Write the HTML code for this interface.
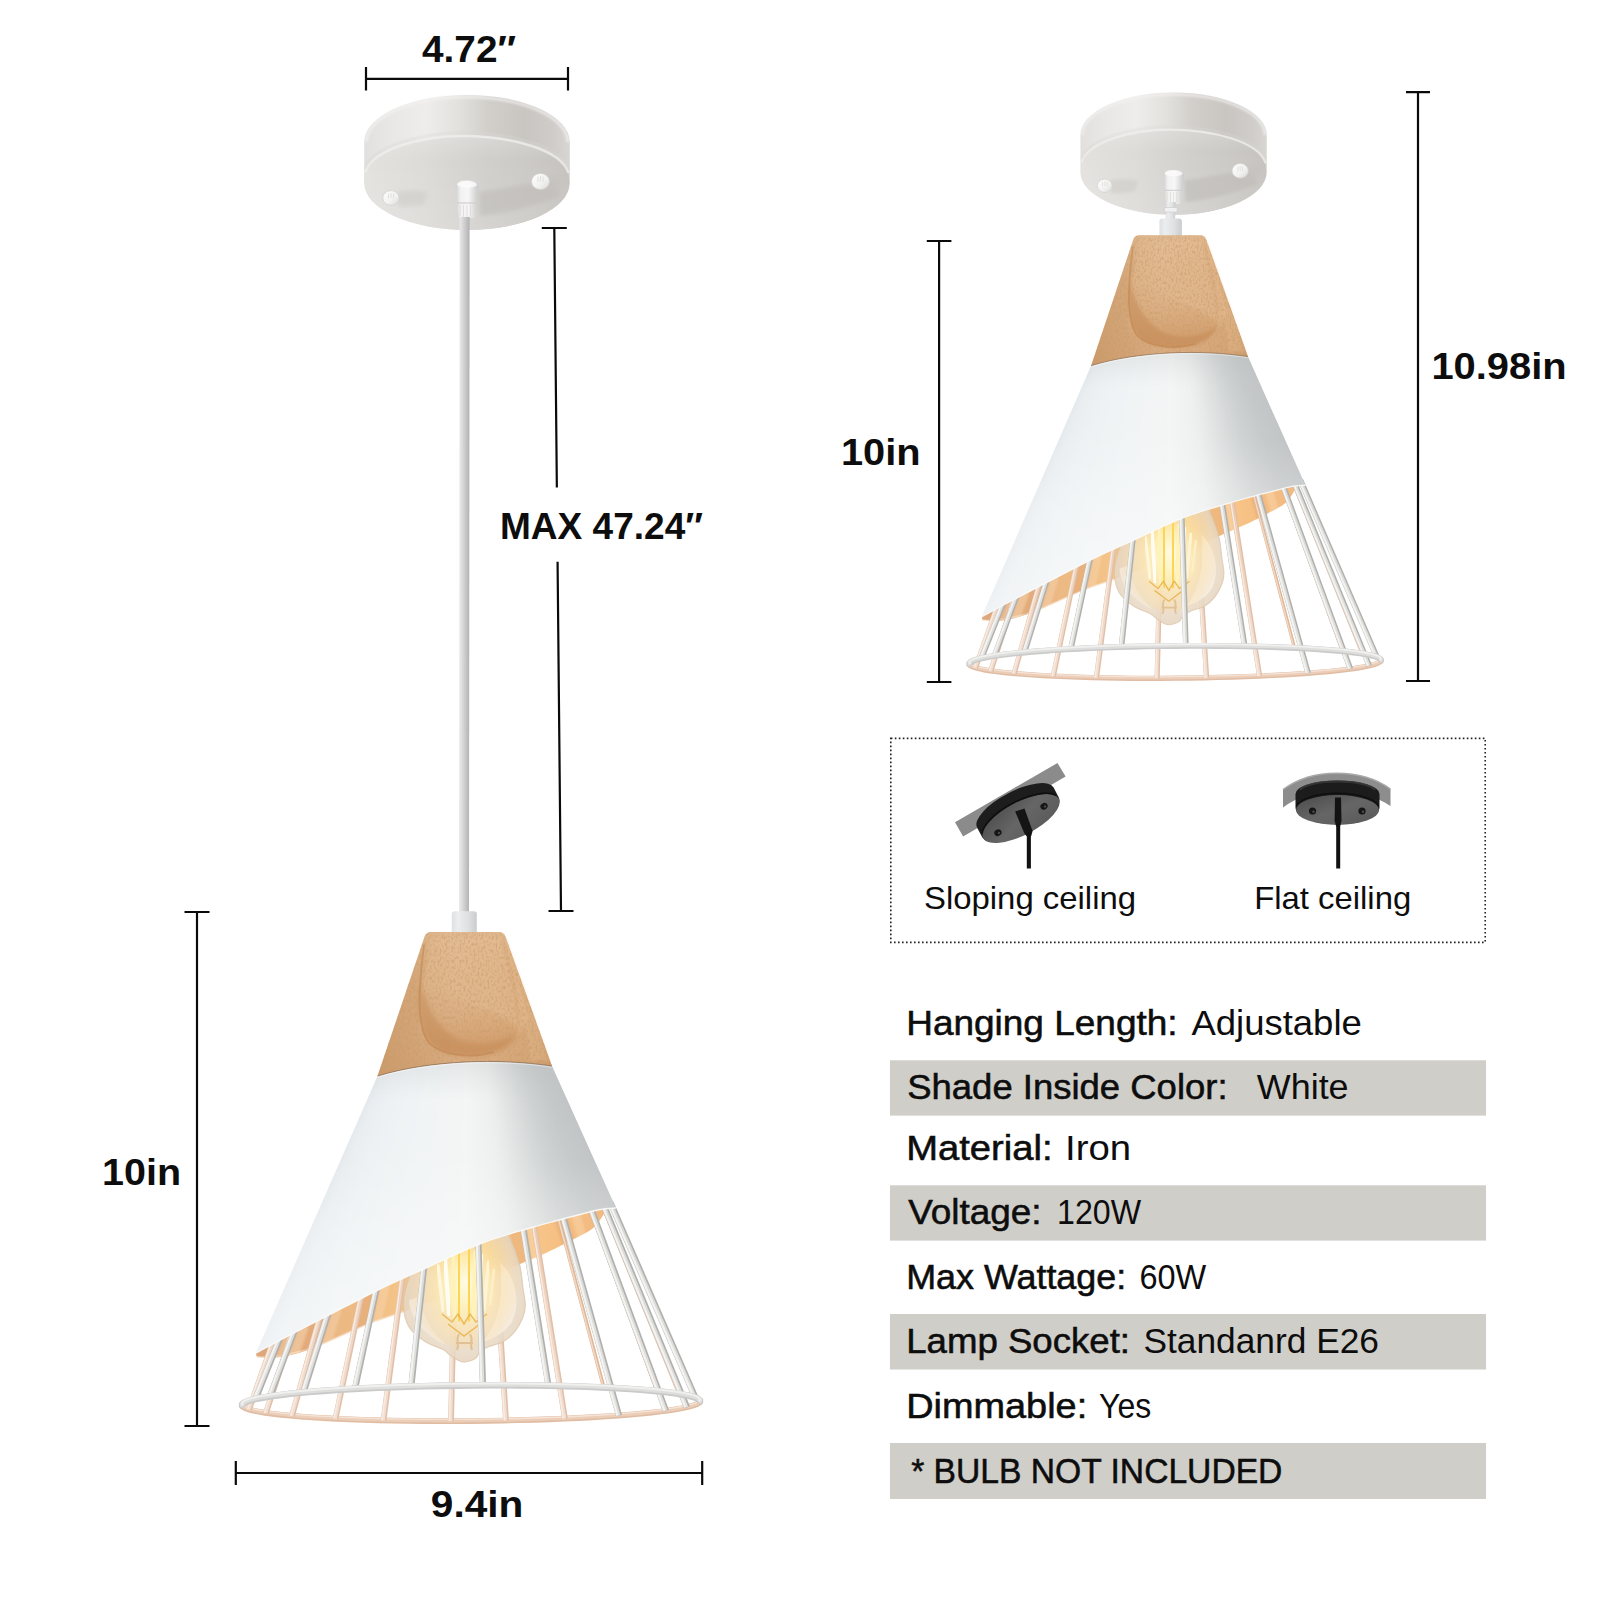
<!DOCTYPE html>
<html lang="en">
<head>
<meta charset="utf-8">
<title>Pendant light dimensions</title>
<style>
html,body{margin:0;padding:0;background:#fff;}
body{width:1600px;height:1600px;overflow:hidden;position:relative;font-family:"Liberation Sans",sans-serif;}
svg{position:absolute;left:0;top:0;display:block;}
text{font-family:"Liberation Sans",sans-serif;fill:#0d0d0d;}
.b{font-weight:700;}
.m{stroke:#0d0d0d;stroke-width:0.55px;}
.dim{stroke:#0a0a0a;stroke-width:2.2;fill:none;}
</style>
</head>
<body>
<svg width="1600" height="1600" viewBox="0 0 1600 1600">
<defs><filter id="grain" x="0" y="0" width="100%" height="100%">
<feTurbulence type="fractalNoise" baseFrequency="0.5 0.3" numOctaves="2" seed="7" result="n"/>
<feColorMatrix in="n" type="matrix" values="0 0 0 0 0.55  0 0 0 0 0.33  0 0 0 0 0.14  0 0 0 -3.4 1.85" result="c"/>
<feComposite in="c" in2="SourceGraphic" operator="in"/>
</filter>
<filter id="blur1"><feGaussianBlur stdDeviation="1"/></filter>
<filter id="blur2"><feGaussianBlur stdDeviation="2"/></filter>
<filter id="blur3"><feGaussianBlur stdDeviation="3.5"/></filter>
<filter id="blur6"><feGaussianBlur stdDeviation="6"/></filter>
<filter id="blur05"><feGaussianBlur stdDeviation="0.5"/></filter>
<linearGradient id="gShade" gradientUnits="userSpaceOnUse" x1="255" y1="0" x2="620" y2="0"><stop offset="0" stop-color="#e3e8ec"/><stop offset="0.1" stop-color="#edf0f2"/><stop offset="0.3" stop-color="#f3f5f6"/><stop offset="0.52" stop-color="#f4f5f5"/><stop offset="0.7" stop-color="#eaebeb"/><stop offset="0.86" stop-color="#d8dada"/><stop offset="1" stop-color="#cdd0d0"/></linearGradient>
<linearGradient id="gShadeV" gradientUnits="userSpaceOnUse" x1="0" y1="1060" x2="0" y2="1350"><stop offset="0" stop-color="#ffffff" stop-opacity="0"/><stop offset="0.35" stop-color="#ffffff" stop-opacity="0.04"/><stop offset="0.6" stop-color="#ffffff" stop-opacity="0.25"/><stop offset="1" stop-color="#ffffff" stop-opacity="0.42"/></linearGradient>
<linearGradient id="gShadeTop" gradientUnits="userSpaceOnUse" x1="0" y1="1058" x2="0" y2="1100"><stop offset="0" stop-color="#b9bcbd" stop-opacity="0.3"/><stop offset="1" stop-color="#c9cccd" stop-opacity="0"/></linearGradient>
<linearGradient id="gInner" gradientUnits="userSpaceOnUse" x1="257" y1="0" x2="612" y2="0"><stop offset="0" stop-color="#dfae85"/><stop offset="0.15" stop-color="#e8b483"/><stop offset="0.33" stop-color="#f0bd84"/><stop offset="0.47" stop-color="#f9cb8a"/><stop offset="0.58" stop-color="#fed592"/><stop offset="0.7" stop-color="#f9c98a"/><stop offset="0.85" stop-color="#f6c084"/><stop offset="1" stop-color="#f1b880"/></linearGradient>
<linearGradient id="gWood" gradientUnits="userSpaceOnUse" x1="377" y1="0" x2="552" y2="0"><stop offset="0" stop-color="#cc9b6c"/><stop offset="0.2" stop-color="#d2a375"/><stop offset="0.45" stop-color="#dcb087"/><stop offset="0.7" stop-color="#daac80"/><stop offset="0.9" stop-color="#d6a677"/><stop offset="1" stop-color="#ca9868"/></linearGradient>
<linearGradient id="gWoodV" gradientUnits="userSpaceOnUse" x1="0" y1="932" x2="0" y2="1076"><stop offset="0" stop-color="#f0d3b0" stop-opacity="0.3"/><stop offset="0.35" stop-color="#e6bf96" stop-opacity="0.08"/><stop offset="1" stop-color="#c99464" stop-opacity="0.22"/></linearGradient>
<linearGradient id="gNotch" gradientUnits="userSpaceOnUse" x1="0" y1="975" x2="0" y2="1060"><stop offset="0" stop-color="#c88c56" stop-opacity="0"/><stop offset="0.4" stop-color="#c88c56" stop-opacity="0.22"/><stop offset="0.8" stop-color="#c3844c" stop-opacity="0.7"/><stop offset="1" stop-color="#c3844c" stop-opacity="0.8"/></linearGradient>
<linearGradient id="gWire" gradientUnits="userSpaceOnUse" x1="0" y1="1200" x2="0" y2="1400"><stop offset="0" stop-color="#d9d9d6"/><stop offset="0.6" stop-color="#dcdcd9"/><stop offset="1" stop-color="#e2dfdb"/></linearGradient>
<linearGradient id="gWireB" gradientUnits="userSpaceOnUse" x1="0" y1="1200" x2="0" y2="1420"><stop offset="0" stop-color="#edc7a5"/><stop offset="0.35" stop-color="#eed2bd"/><stop offset="1" stop-color="#f1dfd3"/></linearGradient>
<radialGradient id="gGlow" gradientUnits="userSpaceOnUse" cx="465" cy="1282" r="80" gradientTransform="translate(465,1282) scale(0.72,1) translate(-465,-1282)"><stop offset="0" stop-color="#fffbe2" stop-opacity="1"/><stop offset="0.3" stop-color="#fff2bc" stop-opacity="0.9"/><stop offset="0.6" stop-color="#ffe3a4" stop-opacity="0.5"/><stop offset="1" stop-color="#ffd590" stop-opacity="0"/></radialGradient>
<radialGradient id="gGlowTop" gradientUnits="userSpaceOnUse" cx="466" cy="1258" r="44" gradientTransform="translate(466,1258) scale(1,0.77) translate(-466,-1258)"><stop offset="0" stop-color="#f9b64e" stop-opacity="0.85"/><stop offset="0.5" stop-color="#f8bd62" stop-opacity="0.55"/><stop offset="1" stop-color="#f8c274" stop-opacity="0"/></radialGradient>
<radialGradient id="gBulb" gradientUnits="userSpaceOnUse" cx="464" cy="1298" r="72"><stop offset="0" stop-color="#f5e8d4"/><stop offset="0.55" stop-color="#ecdfcd"/><stop offset="1" stop-color="#e4d3bd"/></radialGradient>
<linearGradient id="gCord" gradientUnits="objectBoundingBox" x1="0" y1="0" x2="1" y2="0"><stop offset="0" stop-color="#cfcfcf"/><stop offset="0.22" stop-color="#f1f1f1"/><stop offset="0.55" stop-color="#f7f7f7"/><stop offset="1" stop-color="#c9c9c9"/></linearGradient>
<linearGradient id="gGrip" gradientUnits="objectBoundingBox" x1="0" y1="0" x2="1" y2="0"><stop offset="0" stop-color="#dfe0e2"/><stop offset="0.25" stop-color="#ecedee"/><stop offset="0.65" stop-color="#dfe0e2"/><stop offset="1" stop-color="#cbccce"/></linearGradient>
<linearGradient id="gCordG" gradientUnits="objectBoundingBox" x1="0" y1="0" x2="1" y2="0"><stop offset="0" stop-color="#ececec"/><stop offset="0.25" stop-color="#dedede"/><stop offset="0.65" stop-color="#c6c6c6"/><stop offset="1" stop-color="#b1b1b1"/></linearGradient>
<clipPath id="clipInner"><path d="M256,1353 C261.67,1350 277.67,1341.42 290,1335 C302.33,1328.58 315,1322.17 330,1314.5 C345,1306.83 364.17,1296.67 380,1289 C395.83,1281.33 408.17,1276.08 425,1268.5 C441.83,1260.92 463.5,1250.25 481,1243.5 C498.5,1236.75 517.33,1231.83 530,1228 C542.67,1224.17 548.67,1222.75 557,1220.5 C565.33,1218.25 572.83,1216.33 580,1214.5 C587.17,1212.67 594,1210.58 600,1209.5 C606,1208.42 613.33,1208.25 616,1208 L606,1210 C605,1211.67 602.33,1216.83 600,1220 C597.67,1223.17 596.17,1225.92 592,1229 C587.83,1232.08 582.33,1234.67 575,1238.5 C567.67,1242.33 557.17,1247.75 548,1252 C538.83,1256.25 534.67,1257.67 520,1264 C505.33,1270.33 479.17,1282.17 460,1290 C440.83,1297.83 420,1305.5 405,1311 C390,1316.5 384.17,1317.33 370,1323 C355.83,1328.67 332.5,1339.83 320,1345 C307.5,1350.17 302.5,1351.92 295,1354 C287.5,1356.08 281.42,1357.08 275,1357.5 C268.58,1357.92 259.58,1356.67 256.5,1356.5 Z"/></clipPath>
<clipPath id="clipShade"><path d="M377.5,1076 C430,1060 500,1058 552,1066 L616,1208 C613.33,1208.25 606,1208.42 600,1209.5 C594,1210.58 587.17,1212.67 580,1214.5 C572.83,1216.33 565.33,1218.25 557,1220.5 C548.67,1222.75 542.67,1224.17 530,1228 C517.33,1231.83 498.5,1236.75 481,1243.5 C463.5,1250.25 441.83,1260.92 425,1268.5 C408.17,1276.08 395.83,1281.33 380,1289 C364.17,1296.67 345,1306.83 330,1314.5 C315,1322.17 302.33,1328.58 290,1335 C277.67,1341.42 261.67,1350 256,1353 L255.3,1354.5 Z"/></clipPath>
<g id="lamp"><path d="M256,1353 C261.67,1350 277.67,1341.42 290,1335 C302.33,1328.58 315,1322.17 330,1314.5 C345,1306.83 364.17,1296.67 380,1289 C395.83,1281.33 408.17,1276.08 425,1268.5 C441.83,1260.92 463.5,1250.25 481,1243.5 C498.5,1236.75 517.33,1231.83 530,1228 C542.67,1224.17 548.67,1222.75 557,1220.5 C565.33,1218.25 572.83,1216.33 580,1214.5 C587.17,1212.67 594,1210.58 600,1209.5 C606,1208.42 613.33,1208.25 616,1208 L606,1210 C605,1211.67 602.33,1216.83 600,1220 C597.67,1223.17 596.17,1225.92 592,1229 C587.83,1232.08 582.33,1234.67 575,1238.5 C567.67,1242.33 557.17,1247.75 548,1252 C538.83,1256.25 534.67,1257.67 520,1264 C505.33,1270.33 479.17,1282.17 460,1290 C440.83,1297.83 420,1305.5 405,1311 C390,1316.5 384.17,1317.33 370,1323 C355.83,1328.67 332.5,1339.83 320,1345 C307.5,1350.17 302.5,1351.92 295,1354 C287.5,1356.08 281.42,1357.08 275,1357.5 C268.58,1357.92 259.58,1356.67 256.5,1356.5 Z" fill="url(#gInner)"/>
<path d="M257,1357 C275,1358 295,1354 320,1345 L370,1323 L405,1311" fill="none" stroke="#f6dcc2" stroke-width="1.6" opacity="0.8"/>
<path d="M698.72,1399.35 L699.85,1400.58 L699.86,1401.82 L698.75,1403.07 L696.54,1404.32 L693.23,1405.57 L688.83,1406.8 L683.38,1408.01 L676.88,1409.21 L669.39,1410.37 L660.93,1411.5 L651.54,1412.58 L641.28,1413.62 L630.18,1414.62 L618.31,1415.55 L605.72,1416.43 L592.48,1417.24 L578.64,1417.98 L564.28,1418.65 L549.47,1419.24 L534.27,1419.76 L518.76,1420.19 L503.02,1420.55 L487.13,1420.82 L471.16,1421 L455.18,1421.1 L439.28,1421.1 L423.54,1421.03 L408.03,1420.86 L392.83,1420.61 L378,1420.27 L363.63,1419.85 L349.78,1419.35 L336.53,1418.77 L323.93,1418.12 L312.04,1417.39 L300.93,1416.6 L290.65,1415.73 L281.24,1414.81 L272.77,1413.83 L265.25,1412.8 L258.74,1411.72 L253.26,1410.6 L248.85,1409.45 L245.51,1408.26 L243.28,1407.05 L242.15,1405.82 L242.14,1404.58 L243.25,1403.33" fill="none" stroke="#e0bca3" stroke-width="5.8"/>
<path d="M698.72,1399.35 L699.85,1400.58 L699.86,1401.82 L698.75,1403.07 L696.54,1404.32 L693.23,1405.57 L688.83,1406.8 L683.38,1408.01 L676.88,1409.21 L669.39,1410.37 L660.93,1411.5 L651.54,1412.58 L641.28,1413.62 L630.18,1414.62 L618.31,1415.55 L605.72,1416.43 L592.48,1417.24 L578.64,1417.98 L564.28,1418.65 L549.47,1419.24 L534.27,1419.76 L518.76,1420.19 L503.02,1420.55 L487.13,1420.82 L471.16,1421 L455.18,1421.1 L439.28,1421.1 L423.54,1421.03 L408.03,1420.86 L392.83,1420.61 L378,1420.27 L363.63,1419.85 L349.78,1419.35 L336.53,1418.77 L323.93,1418.12 L312.04,1417.39 L300.93,1416.6 L290.65,1415.73 L281.24,1414.81 L272.77,1413.83 L265.25,1412.8 L258.74,1411.72 L253.26,1410.6 L248.85,1409.45 L245.51,1408.26 L243.28,1407.05 L242.15,1405.82 L242.14,1404.58 L243.25,1403.33" fill="none" stroke="#ebcdb8" stroke-width="3.8" transform="translate(0,-0.6)"/>
<path d="M698.72,1399.35 L699.85,1400.58 L699.86,1401.82 L698.75,1403.07 L696.54,1404.32 L693.23,1405.57 L688.83,1406.8 L683.38,1408.01 L676.88,1409.21 L669.39,1410.37 L660.93,1411.5 L651.54,1412.58 L641.28,1413.62 L630.18,1414.62 L618.31,1415.55 L605.72,1416.43 L592.48,1417.24 L578.64,1417.98 L564.28,1418.65 L549.47,1419.24 L534.27,1419.76 L518.76,1420.19 L503.02,1420.55 L487.13,1420.82 L471.16,1421 L455.18,1421.1 L439.28,1421.1 L423.54,1421.03 L408.03,1420.86 L392.83,1420.61 L378,1420.27 L363.63,1419.85 L349.78,1419.35 L336.53,1418.77 L323.93,1418.12 L312.04,1417.39 L300.93,1416.6 L290.65,1415.73 L281.24,1414.81 L272.77,1413.83 L265.25,1412.8 L258.74,1411.72 L253.26,1410.6 L248.85,1409.45 L245.51,1408.26 L243.28,1407.05 L242.15,1405.82 L242.14,1404.58 L243.25,1403.33" fill="none" stroke="#f5e3d6" stroke-width="1.4" transform="translate(0,-1.7)"/>
<g clip-path="url(#clipInner)"><path d="M255.6,1399.04 L281.62,1334.04 M270,1396.43 L296.24,1326.43 M303.5,1392.52 L329.51,1309.52 M355,1388.86 L377.46,1284.86 M411.3,1386.54 L424.52,1263.54 M548.5,1385.77 L522.84,1224.77 M619,1388.33 L567.05,1212.33" fill="none" stroke="#d9996a" stroke-width="13" opacity="0.32" transform="translate(-8,0)" filter="url(#blur1)"/>
<path d="M255.6,1399.04 L281.62,1334.04 M270,1396.43 L296.24,1326.43 M303.5,1392.52 L329.51,1309.52 M355,1388.86 L377.46,1284.86 M411.3,1386.54 L424.52,1263.54 M548.5,1385.77 L522.84,1224.77 M619,1388.33 L567.05,1212.33" fill="none" stroke="#fbe0bd" stroke-width="9" opacity="0.35" transform="translate(8,0)" filter="url(#blur1)"/></g>
<path d="M249,1409.5 L274.7,1337.5 M266,1412.92 L293.82,1327.92 M292,1415.86 L320.92,1313.86 M335.5,1418.73 L362.2,1292.73 M383.5,1420.41 L403.19,1273.41 M451,1421.11 L455.32,1249.11 M506,1420.49 L494.13,1233.49 M565,1418.61 L533.66,1221.61" fill="none" stroke="#e0bfa8" stroke-width="5.8"/>
<path d="M249,1409.5 L274.7,1337.5 M266,1412.92 L293.82,1327.92 M292,1415.86 L320.92,1313.86 M335.5,1418.73 L362.2,1292.73 M383.5,1420.41 L403.19,1273.41 M451,1421.11 L455.32,1249.11 M506,1420.49 L494.13,1233.49 M565,1418.61 L533.66,1221.61" fill="none" stroke="url(#gWireB)" stroke-width="4" transform="translate(-0.7,0)"/>
<path d="M249,1409.5 L274.7,1337.5 M266,1412.92 L293.82,1327.92 M292,1415.86 L320.92,1313.86 M335.5,1418.73 L362.2,1292.73 M383.5,1420.41 L403.19,1273.41 M451,1421.11 L455.32,1249.11 M506,1420.49 L494.13,1233.49 M565,1418.61 L533.66,1221.61" fill="none" stroke="#f8ede4" stroke-width="1.3" transform="translate(-1.5,0)"/>
<path d="M603.8,1387.54 L557.76,1214.54 M657,1391.19 L589.16,1206.19 M679,1393.94 L601.68,1203.94" fill="none" stroke="#e0b595" stroke-width="3.6"/>
<path d="M603.8,1387.54 L557.76,1214.54 M657,1391.19 L589.16,1206.19 M679,1393.94 L601.68,1203.94" fill="none" stroke="#f1d9c6" stroke-width="1.6" transform="translate(-0.5,0)"/>
<path d="M436,1222 C433.33,1227 424.83,1241.67 420,1252 C415.17,1262.33 409.75,1275 407,1284 C404.25,1293 403.17,1298.83 403.5,1306 C403.83,1313.17 405.42,1321.08 409,1327 C412.58,1332.92 419.33,1337.75 425,1341.5 C430.67,1345.25 438.83,1347.25 443,1349.5 C447.17,1351.75 447.42,1353.17 450,1355 C452.58,1356.83 455.92,1359.33 458.5,1360.5 C461.08,1361.67 462.67,1362.33 465.5,1362 C468.33,1361.67 473.17,1360.08 475.5,1358.5 C477.83,1356.92 477.42,1354.42 479.5,1352.5 C481.58,1350.58 484,1348.83 488,1347 C492,1345.17 499,1344.08 503.5,1341.5 C508,1338.92 511.75,1335.58 515,1331.5 C518.25,1327.42 521.28,1321.42 523,1317 C524.72,1312.58 525.3,1309.83 525.3,1305 C525.3,1300.17 523.97,1294.83 523,1288 C522.03,1281.17 521.67,1272.33 519.5,1264 C517.33,1255.67 513.58,1245.67 510,1238 C506.42,1230.33 500,1221.33 498,1218 Z" fill="url(#gBulb)" opacity="0.9"/>
<path d="M436,1222 C433.33,1227 424.83,1241.67 420,1252 C415.17,1262.33 409.75,1275 407,1284 C404.25,1293 403.17,1298.83 403.5,1306 C403.83,1313.17 405.42,1321.08 409,1327 C412.58,1332.92 419.33,1337.75 425,1341.5 C430.67,1345.25 438.83,1347.25 443,1349.5 C447.17,1351.75 447.42,1353.17 450,1355 C452.58,1356.83 455.92,1359.33 458.5,1360.5 C461.08,1361.67 462.67,1362.33 465.5,1362 C468.33,1361.67 473.17,1360.08 475.5,1358.5 C477.83,1356.92 477.42,1354.42 479.5,1352.5 C481.58,1350.58 484,1348.83 488,1347 C492,1345.17 499,1344.08 503.5,1341.5 C508,1338.92 511.75,1335.58 515,1331.5 C518.25,1327.42 521.28,1321.42 523,1317 C524.72,1312.58 525.3,1309.83 525.3,1305 C525.3,1300.17 523.97,1294.83 523,1288 C522.03,1281.17 521.67,1272.33 519.5,1264 C517.33,1255.67 513.58,1245.67 510,1238 C506.42,1230.33 500,1221.33 498,1218 Z" fill="none" stroke="#dcc3a4" stroke-width="1.2" opacity="0.7"/>
<path d="M500,1262 C516,1278 521,1302 512,1322 C504,1334 490,1340 482,1342 C498,1326 504,1296 500,1262 Z" fill="#f8efe2" opacity="0.8"/>
<path d="M409,1300 C410,1320 426,1336 446,1345 C430,1330 421,1314 421,1296 Z" fill="#f6ebdb" opacity="0.75"/>
<ellipse cx="466" cy="1258" rx="44" ry="34" fill="url(#gGlowTop)"/>
<ellipse cx="465" cy="1282" rx="54" ry="66" fill="url(#gGlow)"/>
<path d="M438,1266 L443,1310" stroke="#fff7dc" stroke-width="3.4" stroke-linecap="round" filter="url(#blur05)"/>
<path d="M445,1258 L449,1314" stroke="#fffdf2" stroke-width="4.2" stroke-linecap="round" filter="url(#blur05)"/>
<path d="M452.5,1252 L455,1318" stroke="#fff3b8" stroke-width="3.8" stroke-linecap="round" filter="url(#blur05)"/>
<path d="M458.5,1250 L459.5,1320" stroke="#fbd657" stroke-width="3.6" stroke-linecap="round" filter="url(#blur05)"/>
<path d="M464,1248 L464,1322" stroke="#f2bf2c" stroke-width="3.4" stroke-linecap="round" filter="url(#blur05)"/>
<path d="M469.5,1250 L468.5,1320" stroke="#fbd657" stroke-width="3.6" stroke-linecap="round" filter="url(#blur05)"/>
<path d="M475.5,1252 L473,1318" stroke="#fff3b8" stroke-width="3.8" stroke-linecap="round" filter="url(#blur05)"/>
<path d="M482,1256 L478,1314" stroke="#fffdf2" stroke-width="4.2" stroke-linecap="round" filter="url(#blur05)"/>
<path d="M488.5,1262 L484,1310" stroke="#fff5d6" stroke-width="3.2" stroke-linecap="round" filter="url(#blur05)"/>
<path d="M494,1270 L490,1304" stroke="#ffefc6" stroke-width="2.4" stroke-linecap="round" filter="url(#blur05)"/>
<path d="M442,1314 L452,1322 L458,1314 L464,1324 L470,1314 L476,1322 L487,1314 M448,1324 L464,1336 L480,1324" fill="none" stroke="#e8b24c" stroke-width="1.5" opacity="0.85"/>
<path d="M459,1334 C455,1340 460,1344 457,1350 M470,1334 C474,1340 469,1344 472,1350 M456,1343 h17" fill="none" stroke="#dcb98c" stroke-width="2" opacity="0.8"/>
<path d="M255.6,1399.04 L281.62,1334.04 M270,1396.43 L296.24,1326.43 M303.5,1392.52 L329.51,1309.52 M355,1388.86 L377.46,1284.86 M411.3,1386.54 L424.52,1263.54 M483,1385.32 L478.34,1239.32 M548.5,1385.77 L522.84,1224.77 M695.5,1397.73 L610.6,1202.73 M619,1415.49 L562.36,1213.49 M666,1410.83 L590.51,1206.83 M687,1407.23 L603,1203.23" fill="none" stroke="#b0b1af" stroke-width="6.2"/>
<path d="M255.6,1399.04 L281.62,1334.04 M270,1396.43 L296.24,1326.43 M303.5,1392.52 L329.51,1309.52 M355,1388.86 L377.46,1284.86 M411.3,1386.54 L424.52,1263.54 M483,1385.32 L478.34,1239.32 M548.5,1385.77 L522.84,1224.77 M695.5,1397.73 L610.6,1202.73 M619,1415.49 L562.36,1213.49 M666,1410.83 L590.51,1206.83 M687,1407.23 L603,1203.23" fill="none" stroke="url(#gWire)" stroke-width="4.4" transform="translate(-0.8,0)"/>
<path d="M255.6,1399.04 L281.62,1334.04 M270,1396.43 L296.24,1326.43 M303.5,1392.52 L329.51,1309.52 M355,1388.86 L377.46,1284.86 M411.3,1386.54 L424.52,1263.54 M483,1385.32 L478.34,1239.32 M548.5,1385.77 L522.84,1224.77 M695.5,1397.73 L610.6,1202.73 M619,1415.49 L562.36,1213.49 M666,1410.83 L590.51,1206.83 M687,1407.23 L603,1203.23" fill="none" stroke="#f3f3f2" stroke-width="2" transform="translate(-1.6,0)"/>
<path d="M243.28,1407.05 L242.15,1405.82 L242.14,1404.58 L243.25,1403.33 L245.46,1402.08 L248.77,1400.83 L253.17,1399.6 L258.62,1398.39 L265.12,1397.19 L272.61,1396.03 L281.07,1394.9 L290.46,1393.82 L300.72,1392.78 L311.82,1391.78 L323.69,1390.85 L336.28,1389.97 L349.52,1389.16 L363.36,1388.42 L377.72,1387.75 L392.53,1387.16 L407.73,1386.64 L423.24,1386.21 L438.98,1385.85 L454.87,1385.58 L470.84,1385.4 L486.82,1385.3 L502.72,1385.3 L518.46,1385.37 L533.97,1385.54 L549.17,1385.79 L564,1386.13 L578.37,1386.55 L592.22,1387.05 L605.47,1387.63 L618.07,1388.28 L629.96,1389.01 L641.07,1389.8 L651.35,1390.67 L660.76,1391.59 L669.23,1392.57 L676.75,1393.6 L683.26,1394.68 L688.74,1395.8 L693.15,1396.95 L696.49,1398.14 L698.72,1399.35 L699.85,1400.58 L699.86,1401.82 L698.75,1403.07" fill="none" stroke="#c9cac9" stroke-width="6.6"/>
<path d="M243.28,1407.05 L242.15,1405.82 L242.14,1404.58 L243.25,1403.33 L245.46,1402.08 L248.77,1400.83 L253.17,1399.6 L258.62,1398.39 L265.12,1397.19 L272.61,1396.03 L281.07,1394.9 L290.46,1393.82 L300.72,1392.78 L311.82,1391.78 L323.69,1390.85 L336.28,1389.97 L349.52,1389.16 L363.36,1388.42 L377.72,1387.75 L392.53,1387.16 L407.73,1386.64 L423.24,1386.21 L438.98,1385.85 L454.87,1385.58 L470.84,1385.4 L486.82,1385.3 L502.72,1385.3 L518.46,1385.37 L533.97,1385.54 L549.17,1385.79 L564,1386.13 L578.37,1386.55 L592.22,1387.05 L605.47,1387.63 L618.07,1388.28 L629.96,1389.01 L641.07,1389.8 L651.35,1390.67 L660.76,1391.59 L669.23,1392.57 L676.75,1393.6 L683.26,1394.68 L688.74,1395.8 L693.15,1396.95 L696.49,1398.14 L698.72,1399.35 L699.85,1400.58 L699.86,1401.82 L698.75,1403.07" fill="none" stroke="#dededc" stroke-width="4.6" transform="translate(0,-0.8)"/>
<path d="M243.28,1407.05 L242.15,1405.82 L242.14,1404.58 L243.25,1403.33 L245.46,1402.08 L248.77,1400.83 L253.17,1399.6 L258.62,1398.39 L265.12,1397.19 L272.61,1396.03 L281.07,1394.9 L290.46,1393.82 L300.72,1392.78 L311.82,1391.78 L323.69,1390.85 L336.28,1389.97 L349.52,1389.16 L363.36,1388.42 L377.72,1387.75 L392.53,1387.16 L407.73,1386.64 L423.24,1386.21 L438.98,1385.85 L454.87,1385.58 L470.84,1385.4 L486.82,1385.3 L502.72,1385.3 L518.46,1385.37 L533.97,1385.54 L549.17,1385.79 L564,1386.13 L578.37,1386.55 L592.22,1387.05 L605.47,1387.63 L618.07,1388.28 L629.96,1389.01 L641.07,1389.8 L651.35,1390.67 L660.76,1391.59 L669.23,1392.57 L676.75,1393.6 L683.26,1394.68 L688.74,1395.8 L693.15,1396.95 L696.49,1398.14 L698.72,1399.35 L699.85,1400.58 L699.86,1401.82 L698.75,1403.07" fill="none" stroke="#f0f0ef" stroke-width="2" transform="translate(0,-1.8)"/>
<g clip-path="url(#clipShade)"><g filter="url(#blur2)"><path d="M466.6,872 L183.1,1420 L194.07,1420 Z" fill="#e2e7eb"/><path d="M466.6,872 L193.27,1420 L204.23,1420 Z" fill="#e2e7eb"/><path d="M466.6,872 L203.43,1420 L214.4,1420 Z" fill="#e2e7eb"/><path d="M466.6,872 L213.6,1420 L224.57,1420 Z" fill="#e2e7eb"/><path d="M466.6,872 L223.77,1420 L234.74,1420 Z" fill="#e4e9ed"/><path d="M466.6,872 L233.94,1420 L244.91,1420 Z" fill="#e7ecf0"/><path d="M466.6,872 L244.11,1420 L255.08,1420 Z" fill="#eaeef1"/><path d="M466.6,872 L254.28,1420 L265.25,1420 Z" fill="#eaeff2"/><path d="M466.6,872 L264.45,1420 L275.42,1420 Z" fill="#ebf0f2"/><path d="M466.6,872 L274.62,1420 L285.58,1420 Z" fill="#ecf1f3"/><path d="M466.6,872 L284.78,1420 L295.75,1420 Z" fill="#edf1f4"/><path d="M466.6,872 L294.95,1420 L305.92,1420 Z" fill="#eef2f4"/><path d="M466.6,872 L305.12,1420 L316.09,1420 Z" fill="#eef2f4"/><path d="M466.6,872 L315.29,1420 L326.26,1420 Z" fill="#eff3f4"/><path d="M466.6,872 L325.46,1420 L336.43,1420 Z" fill="#eff3f4"/><path d="M466.6,872 L335.63,1420 L346.6,1420 Z" fill="#f0f3f5"/><path d="M466.6,872 L345.8,1420 L356.76,1420 Z" fill="#f0f3f5"/><path d="M466.6,872 L355.96,1420 L366.93,1420 Z" fill="#f0f4f5"/><path d="M466.6,872 L366.13,1420 L377.1,1420 Z" fill="#f1f4f5"/><path d="M466.6,872 L376.3,1420 L387.27,1420 Z" fill="#f1f4f5"/><path d="M466.6,872 L386.47,1420 L397.44,1420 Z" fill="#f1f4f5"/><path d="M466.6,872 L396.64,1420 L407.61,1420 Z" fill="#f2f4f5"/><path d="M466.6,872 L406.81,1420 L417.78,1420 Z" fill="#f2f4f5"/><path d="M466.6,872 L416.98,1420 L427.94,1420 Z" fill="#f2f4f5"/><path d="M466.6,872 L427.14,1420 L438.11,1420 Z" fill="#f3f5f5"/><path d="M466.6,872 L437.31,1420 L448.28,1420 Z" fill="#f3f5f5"/><path d="M466.6,872 L447.48,1420 L458.45,1420 Z" fill="#f3f5f5"/><path d="M466.6,872 L457.65,1420 L468.62,1420 Z" fill="#f4f5f5"/><path d="M466.6,872 L467.82,1420 L478.79,1420 Z" fill="#f3f4f4"/><path d="M466.6,872 L477.99,1420 L488.96,1420 Z" fill="#f2f3f3"/><path d="M466.6,872 L488.16,1420 L499.12,1420 Z" fill="#f1f2f2"/><path d="M466.6,872 L498.32,1420 L509.29,1420 Z" fill="#f0f1f1"/><path d="M466.6,872 L508.49,1420 L519.46,1420 Z" fill="#eff0f0"/><path d="M466.6,872 L518.66,1420 L529.63,1420 Z" fill="#edeeee"/><path d="M466.6,872 L528.83,1420 L539.8,1420 Z" fill="#eaebeb"/><path d="M466.6,872 L539,1420 L549.97,1420 Z" fill="#e7e8e8"/><path d="M466.6,872 L549.17,1420 L560.14,1420 Z" fill="#e3e5e5"/><path d="M466.6,872 L559.34,1420 L570.3,1420 Z" fill="#e0e2e2"/><path d="M466.6,872 L569.5,1420 L580.47,1420 Z" fill="#dddfdf"/><path d="M466.6,872 L579.67,1420 L590.64,1420 Z" fill="#d9dcdc"/><path d="M466.6,872 L589.84,1420 L600.81,1420 Z" fill="#d6d8d8"/><path d="M466.6,872 L600.01,1420 L610.98,1420 Z" fill="#d2d5d5"/><path d="M466.6,872 L610.18,1420 L621.15,1420 Z" fill="#cfd2d2"/><path d="M466.6,872 L620.35,1420 L631.32,1420 Z" fill="#cccfd0"/><path d="M466.6,872 L630.52,1420 L641.48,1420 Z" fill="#cacdce"/><path d="M466.6,872 L640.68,1420 L651.65,1420 Z" fill="#c8cbcc"/><path d="M466.6,872 L650.85,1420 L661.82,1420 Z" fill="#c6c9c9"/><path d="M466.6,872 L661.02,1420 L671.99,1420 Z" fill="#c4c7c8"/><path d="M466.6,872 L671.19,1420 L682.16,1420 Z" fill="#c3c6c7"/><path d="M466.6,872 L681.36,1420 L692.33,1420 Z" fill="#c2c5c6"/><path d="M466.6,872 L691.53,1420 L702.5,1420 Z" fill="#c1c4c5"/><path d="M466.6,872 L701.7,1420 L712.66,1420 Z" fill="#c0c3c4"/><path d="M466.6,872 L711.87,1420 L722.83,1420 Z" fill="#bfc2c3"/><path d="M466.6,872 L722.03,1420 L733,1420 Z" fill="#bfc2c3"/><path d="M466.6,872 L732.2,1420 L743.17,1420 Z" fill="#bfc2c3"/><path d="M466.6,872 L742.37,1420 L753.34,1420 Z" fill="#bfc2c3"/></g>
<rect x="250" y="1055" width="380" height="310" fill="url(#gShadeV)"/>
<rect x="250" y="1055" width="380" height="60" fill="url(#gShadeTop)"/>
</g>
<path d="M616,1208 C613.33,1208.25 606,1208.42 600,1209.5 C594,1210.58 587.17,1212.67 580,1214.5 C572.83,1216.33 565.33,1218.25 557,1220.5 C548.67,1222.75 542.67,1224.17 530,1228 C517.33,1231.83 498.5,1236.75 481,1243.5 C463.5,1250.25 441.83,1260.92 425,1268.5 C408.17,1276.08 395.83,1281.33 380,1289 C364.17,1296.67 345,1306.83 330,1314.5 C315,1322.17 302.33,1328.58 290,1335 C277.67,1341.42 261.67,1350 256,1353" fill="none" stroke="#fbfbfb" stroke-width="1.4" opacity="0.9"/>
<path d="M424.6,936.5 Q426,932 431.5,932 L498.5,932 Q504,932 505.4,936.5 L552,1066 C500,1058 430,1060 377.5,1076 Z" fill="url(#gWood)"/>
<path d="M424.6,936.5 Q426,932 431.5,932 L498.5,932 Q504,932 505.4,936.5 L552,1066 C500,1058 430,1060 377.5,1076 Z" fill="url(#gWoodV)"/>
<path d="M431,938 C425,975 418,1005 419,1030 C424,1048 445,1058 470,1058 C500,1057 520,1040 528,1018 C520,985 508,955 500,938 Z" fill="#e8c199" opacity="0.4" filter="url(#blur1)"/>
<path d="M421,985 C417,1015 420,1036 434,1047 C450,1058 478,1059 498,1051 C510,1046 517,1038 519,1030 C508,1042 482,1048 462,1041 C440,1032 428,1010 421,985 Z" fill="#bf7f48" opacity="0.42" filter="url(#blur2)"/>
<path d="M421,985 C417,1015 420,1036 434,1047 C450,1058 478,1059 498,1051 C510,1046 517,1038 519,1028 C500,1012 450,995 421,985 Z" fill="url(#gNotch)" opacity="0.6" filter="url(#blur2)"/>
<path d="M424,945 C419,985 416,1022 428,1042 C440,1055 470,1059 494,1052" fill="none" stroke="#bf834d" stroke-width="2" opacity="0.55" filter="url(#blur05)"/>
<path d="M503,940 C512,975 518,1000 518,1026" fill="none" stroke="#c9925f" stroke-width="1.6" opacity="0.35" filter="url(#blur1)"/>
<path d="M507,940 L550,1062 L530,1060 C528,1020 515,975 503,940 Z" fill="#e6bd93" opacity="0.35" filter="url(#blur1)"/>
<path d="M424.6,936.5 Q426,932 431.5,932 L498.5,932 Q504,932 505.4,936.5 L552,1066 C500,1058 430,1060 377.5,1076 Z" fill="#000" filter="url(#grain)" opacity="0.5"/>
<path d="M377.5,1076 C430,1060 500,1058 552,1066" fill="none" stroke="#8a6a4c" stroke-width="1" opacity="0.75"/>
<path d="M377.5,1076 C430,1060 500,1058 552,1066" fill="none" stroke="#ffffff" stroke-width="1" opacity="0.45" transform="translate(0,1.3)"/></g>
<linearGradient id="gCanWall" gradientUnits="userSpaceOnUse" x1="364.2" y1="0" x2="569.8" y2="0"><stop offset="0" stop-color="#e1e0de"/><stop offset="0.12" stop-color="#e8e7e5"/><stop offset="0.3" stop-color="#eeedeb"/><stop offset="0.46" stop-color="#e3e1de"/><stop offset="0.6" stop-color="#d2cfcb"/><stop offset="0.78" stop-color="#c9c6c2"/><stop offset="0.92" stop-color="#cfccc9"/><stop offset="1" stop-color="#d8d6d3"/></linearGradient>
<linearGradient id="gCanFace" gradientUnits="userSpaceOnUse" x1="364.2" y1="0" x2="569.8" y2="0"><stop offset="0" stop-color="#e3e2df"/><stop offset="0.3" stop-color="#dcdbd8"/><stop offset="0.6" stop-color="#d1cfcc"/><stop offset="1" stop-color="#c6c3bf"/></linearGradient>
<linearGradient id="gCanFaceV" gradientUnits="userSpaceOnUse" x1="0" y1="136" x2="0" y2="230"><stop offset="0" stop-color="#ffffff" stop-opacity="0.18"/><stop offset="0.25" stop-color="#ffffff" stop-opacity="0"/><stop offset="1" stop-color="#ffffff" stop-opacity="0.1"/></linearGradient>
<linearGradient id="gScrew" gradientUnits="objectBoundingBox" x1="0" y1="0" x2="1" y2="1"><stop offset="0" stop-color="#ffffff"/><stop offset="0.6" stop-color="#f1f1f0"/><stop offset="1" stop-color="#d9d8d6"/></linearGradient>
<g id="canopy"><path d="M364.2,142 A102.8,47 0 0 1 569.8,142 L569.8,183 A102.8,47 0 0 1 364.2,183 Z" fill="url(#gCanWall)"/>
<path d="M366.2,142 A100.8,45 0 0 1 567.8,142" fill="none" stroke="#f4f3f2" stroke-width="3" opacity="0.7" filter="url(#blur1)"/>
<path d="M365.5,172 C371,150 420,136 463,136 C510,136 561,149 568.5,173 L569.3,183 A102.3,47 0 0 1 364.7,183 Z" fill="url(#gCanFace)"/>
<path d="M365.5,172 C371,150 420,136 463,136 C510,136 561,149 568.5,173 L569.3,183 A102.3,47 0 0 1 364.7,183 Z" fill="url(#gCanFaceV)"/>
<path d="M365.5,172 C371,150 420,136 463,136 C510,136 561,149 568.5,173" fill="none" stroke="#f1f0ee" stroke-width="2.4" opacity="0.8" filter="url(#blur05)"/>
<path d="M365.5,172 C371,150 420,136 463,136 C510,136 561,149 568.5,173" fill="none" stroke="#d9d7d4" stroke-width="2" opacity="0.6" filter="url(#blur1)" transform="translate(0,-3)"/>
<path d="M479,192 C500,189 528,183 552,181 L560,196 C535,206 505,214 480,216 Z" fill="#bfbcb8" opacity="0.6" filter="url(#blur2)"/>
<path d="M397,192 C410,190 420,190 428,193 L424,204 C414,206 404,207 398,206 Z" fill="#cfccc8" opacity="0.6" filter="url(#blur2)"/>
<path d="M546,176 C556,174 563,174 567,177 L560,190 C553,192 548,192 544,190 Z" fill="#c6c3bf" opacity="0.6" filter="url(#blur2)"/>
<ellipse cx="391" cy="198" rx="8.2" ry="7.38" fill="url(#gScrew)" stroke="#d2d1ce" stroke-width="0.8"/><path d="M388.5,193.49 v4.92 M391,193.08 v4.92 M393.5,193.49 v4.92" stroke="#dddcda" stroke-width="0.9" fill="none"/>
<ellipse cx="540.5" cy="181.5" rx="9" ry="8.1" fill="url(#gScrew)" stroke="#d2d1ce" stroke-width="0.8"/><path d="M538,176.55 v5.4 M540.5,176.1 v5.4 M543,176.55 v5.4" stroke="#dddcda" stroke-width="0.9" fill="none"/>
<path d="M455.5,186 Q455.5,180.5 467,180.5 Q478.5,180.5 478.5,186 L477,203 L475,218 L459,218 L457,203 Z" fill="url(#gCord)"/>
<path d="M457,203 H477" stroke="#cfcfcd" stroke-width="1.2"/>
<path d="M460,205 v11 M463.5,205 v12 M467,205 v12 M470.5,205 v12 M474,205 v11" stroke="#dad9d7" stroke-width="0.8"/>
<ellipse cx="467" cy="184.5" rx="10" ry="3.2" fill="#fbfbfb" opacity="0.8"/></g>
<linearGradient id="gDiscFace" gradientUnits="objectBoundingBox" x1="0" y1="0" x2="1" y2="1"><stop offset="0" stop-color="#4a4a4a"/><stop offset="0.5" stop-color="#666666"/><stop offset="1" stop-color="#585858"/></linearGradient>
<linearGradient id="gDiscRim" gradientUnits="objectBoundingBox" x1="0" y1="0" x2="1" y2="0"><stop offset="0" stop-color="#1a1a1a"/><stop offset="0.45" stop-color="#3c3c3c"/><stop offset="0.7" stop-color="#262626"/><stop offset="1" stop-color="#151515"/></linearGradient></defs>
<g id="leftLamp">
<use href="#canopy"/>
<path d="M459.6,217 L469.6,217 L469,914 L459,914 Z" fill="url(#gCordG)"/>
<path d="M451.8,914 Q451.8,911.2 454.8,911.2 L473.8,911.2 Q476.8,911.2 476.8,914 L476.8,932 L451.8,932 Z" fill="url(#gGrip)"/>
<use href="#lamp"/>
</g>
<g id="rightLampCanopy" transform="translate(750.5,6.4) scale(0.906)">
<use href="#canopy"/>
</g>
<g id="stem">
<path d="M1166.6,202 L1175.8,202 L1175,220 L1165.6,220 Z" fill="url(#gGrip)"/>
<path d="M1164.6,207.5 h12.6 v4.6 h-12.9 Z" fill="#f1f1f2" stroke="#d0d1d3" stroke-width="0.8"/>
<path d="M1159.4,221.5 Q1159.4,218.5 1162.4,218.5 L1178.9,218.5 Q1181.9,218.5 1181.9,221.5 L1181.9,236.5 L1159.4,236.5 Z" fill="url(#gGrip)"/>
</g>
<g id="rightLamp" transform="translate(751.7,-609.2) scale(0.899,0.906)">
<use href="#lamp"/>
</g>
<g id="iconSlope">
<path d="M955,822.3 L1057.5,762.9 L1065.6,776.5 L963.1,836.6 Z" fill="#8b8b8b"/>
<g transform="translate(1019.5,815.5) rotate(-27.5) scale(1.04,1.06)">
<path d="M-41.5,-8.5 A41.5,15 0 0 1 41.5,-8.5 L41.5,2 A41.5,15 0 0 1 -41.5,2 Z" fill="#1d1d1d"/>
<ellipse cx="0" cy="3.2" rx="41" ry="15.6" fill="url(#gDiscFace)"/>
<path d="M-40,-1 A41,15.6 0 0 1 40,-1" fill="none" stroke="#0f0f0f" stroke-width="1.6"/>
<ellipse cx="-26" cy="5" rx="3.6" ry="3" fill="#161616"/><ellipse cx="25" cy="3" rx="3.6" ry="3" fill="#161616"/>
<ellipse cx="-25.2" cy="5.6" rx="1.2" ry="1" fill="#4d4d4d"/><ellipse cx="25.8" cy="3.6" rx="1.2" ry="1" fill="#4d4d4d"/>
</g>
<path d="M1015.2,811.5 L1024.5,808.5 L1032.6,831 L1031.2,836 L1026.3,836 L1024.2,833 Z" fill="#141414"/>
<path d="M1026.8,832 H1030.9 V868.5 H1026.8 Z" fill="#111"/>
</g>
<g id="iconFlat">
<path d="M1283,789.5 C1300,777 1318,773.2 1336.5,773.2 C1356,773.2 1374,777 1390.5,789 L1390.5,806 C1376,796 1356,791.5 1336.5,791.5 C1316,791.5 1298,796 1283,807.5 Z" fill="#8d8d8d"/>
<path d="M1283,789.5 C1300,777 1318,773.2 1336.5,773.2 C1356,773.2 1374,777 1390.5,789" fill="none" stroke="#a9a9a9" stroke-width="1.4"/>
<path d="M1295.5,794 A42,13.5 0 0 1 1379.5,794 L1379.5,808 A42,15 0 0 1 1295.5,808 Z" fill="#1c1c1c"/>
<path d="M1300,790 A38,10 0 0 1 1375,790" fill="none" stroke="#3b3b3b" stroke-width="2" opacity="0.8"/>
<ellipse cx="1337.5" cy="810" rx="41.5" ry="15" fill="url(#gDiscFace)"/>
<path d="M1296.5,806 A41.5,15 0 0 1 1378.5,806" fill="none" stroke="#0f0f0f" stroke-width="1.6"/>
<ellipse cx="1312.5" cy="811" rx="3.6" ry="3.6" fill="#151515"/><ellipse cx="1362" cy="811" rx="3.6" ry="3.6" fill="#151515"/>
<ellipse cx="1313.5" cy="811.8" rx="1.2" ry="1.2" fill="#4d4d4d"/><ellipse cx="1363" cy="811.8" rx="1.2" ry="1.2" fill="#4d4d4d"/>
<path d="M1335,797.5 L1341,797.5 L1341.5,821 L1340,826.5 L1336.2,826.5 L1334.6,821 Z" fill="#131313"/>
<path d="M1336.2,824 H1340.2 V868.5 H1336.2 Z" fill="#111"/>
</g>
<g id="dims">
<path class="dim" d="M366,78.8 H568 M366,67 V90.6 M568,67 V90.6"/>
<path class="dim" d="M554.3,228 L556.85,487.5 M557.57,561.8 L561,911"/><path class="dim" d="M541.8,228 H566.8 M548.5,911 H573.5"/>
<path class="dim" d="M197,912 L197,1426"/><path class="dim" d="M184.5,912 H209.5 M184.5,1426 H209.5"/>
<path class="dim" d="M235.8,1473 H702.2 M235.8,1461 V1485 M702.2,1461 V1485"/>
<path class="dim" d="M939.1,241 L939.1,682"/><path class="dim" d="M926.8,241 H951.4 M926.8,682 H951.4"/>
<path class="dim" d="M1418,92.2 L1418,681"/><path class="dim" d="M1406,92.2 H1430 M1406,681 H1430"/>
</g>
<g id="labels">
<text x="422" y="62" font-size="37.5" textLength="94" lengthAdjust="spacingAndGlyphs" class="b">4.72″</text>
<text x="500" y="538.8" font-size="37.5" textLength="203" lengthAdjust="spacingAndGlyphs" class="b">MAX 47.24″</text>
<text x="102" y="1185.3" font-size="37.5" textLength="79" lengthAdjust="spacingAndGlyphs" class="b">10in</text>
<text x="430.8" y="1517" font-size="37.5" textLength="92.6" lengthAdjust="spacingAndGlyphs" class="b">9.4in</text>
<text x="841" y="465" font-size="37.5" textLength="79.6" lengthAdjust="spacingAndGlyphs" class="b">10in</text>
<text x="1431.4" y="378.5" font-size="37.5" textLength="135.2" lengthAdjust="spacingAndGlyphs" class="b">10.98in</text>
</g>
<rect x="890.8" y="738.4" width="594.4" height="204" fill="none" stroke="#222" stroke-width="1.6" stroke-dasharray="1.6 2.4"/>
<text x="924" y="908.8" font-size="30.5" textLength="212" lengthAdjust="spacingAndGlyphs">Sloping ceiling</text>
<text x="1254.2" y="908.8" font-size="30.5" textLength="157" lengthAdjust="spacingAndGlyphs">Flat ceiling</text>
<rect x="890" y="1060.3" width="596" height="55.3" fill="#d0cec9"/>
<rect x="890" y="1185.3" width="596" height="55.3" fill="#d0cec9"/>
<rect x="890" y="1314" width="596" height="55.5" fill="#d0cec9"/>
<rect x="890" y="1443" width="596" height="56" fill="#d0cec9"/>
<g id="specs">
<text x="906.2" y="1034.8" font-size="35" textLength="271.4" lengthAdjust="spacingAndGlyphs" class="m">Hanging Length:</text>
<text x="1191.4" y="1034.8" font-size="35" textLength="170.4" lengthAdjust="spacingAndGlyphs">Adjustable</text>
<text x="907.2" y="1099.4" font-size="35" textLength="320.4" lengthAdjust="spacingAndGlyphs" class="m">Shade Inside Color:</text>
<text x="1256.8" y="1099.4" font-size="35" textLength="91.8" lengthAdjust="spacingAndGlyphs">White</text>
<text x="906.2" y="1159.8" font-size="35" textLength="146.4" lengthAdjust="spacingAndGlyphs" class="m">Material:</text>
<text x="1065" y="1159.8" font-size="35" textLength="66" lengthAdjust="spacingAndGlyphs">Iron</text>
<text x="908.2" y="1224.4" font-size="35" textLength="133.4" lengthAdjust="spacingAndGlyphs" class="m">Voltage:</text>
<text x="1057" y="1224.4" font-size="35" textLength="84" lengthAdjust="spacingAndGlyphs">120W</text>
<text x="906.2" y="1289" font-size="35" textLength="220" lengthAdjust="spacingAndGlyphs" class="m">Max Wattage:</text>
<text x="1139.4" y="1289" font-size="35" textLength="66.8" lengthAdjust="spacingAndGlyphs">60W</text>
<text x="906.2" y="1353" font-size="35" textLength="223.8" lengthAdjust="spacingAndGlyphs" class="m">Lamp Socket:</text>
<text x="1143.4" y="1353" font-size="35" textLength="235.6" lengthAdjust="spacingAndGlyphs">Standanrd E26</text>
<text x="906.2" y="1417.8" font-size="35" textLength="181" lengthAdjust="spacingAndGlyphs" class="m">Dimmable:</text>
<text x="1099" y="1417.8" font-size="35" textLength="52.2" lengthAdjust="spacingAndGlyphs">Yes</text>
<text x="911.2" y="1482.8" font-size="35" textLength="371.2" lengthAdjust="spacingAndGlyphs" class="m">* BULB NOT INCLUDED</text>
</g>
</svg>
</body>
</html>
